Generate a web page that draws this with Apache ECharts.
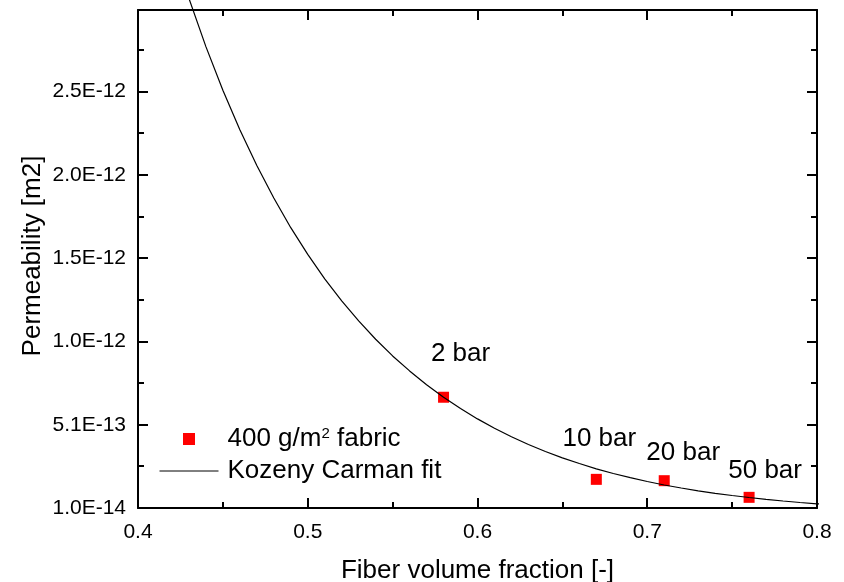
<!DOCTYPE html>
<html>
<head>
<meta charset="utf-8">
<script src="https://cdn.jsdelivr.net/npm/echarts@6/dist/echarts.min.js"></script>
<style>
  html, body { margin: 0; padding: 0; background: #fff; }
  #chart { width: 844px; height: 582px; }
</style>
</head>
<body>
<div id="chart"></div>
<script>
// ---- data ----
const fiberFraction = [0.58, 0.67, 0.71, 0.76];
const permeability = [6.75e-13, 1.82e-13, 1.74e-13, 7.4e-14];
const pressureLabels = ['2 bar', '10 bar', '20 bar', '50 bar'];

const kcX = [0.42, 0.43, 0.44, 0.45, 0.46, 0.47, 0.48, 0.49, 0.50, 0.51,
             0.52, 0.53, 0.54, 0.55, 0.56, 0.57, 0.58, 0.59, 0.60, 0.61,
             0.62, 0.63, 0.64, 0.65, 0.66, 0.67, 0.68, 0.69, 0.70, 0.71,
             0.72, 0.73, 0.74, 0.75, 0.76, 0.77, 0.78, 0.79, 0.80, 0.81];
const kcY = [3.39e-12, 3.07e-12, 2.78e-12, 2.518e-12, 2.281e-12, 2.066e-12, 1.871e-12, 1.693e-12, 1.533e-12, 1.386e-12,
             1.254e-12, 1.133e-12, 1.023e-12, 9.23e-13, 8.33e-13, 7.50e-13, 6.75e-13, 6.07e-13, 5.45e-13, 4.89e-13,
             4.38e-13, 3.91e-13, 3.49e-13, 3.11e-13, 2.77e-13, 2.45e-13, 2.17e-13, 1.92e-13, 1.69e-13, 1.48e-13,
             1.30e-13, 1.13e-13, 9.8e-14, 8.5e-14, 7.3e-14, 6.2e-14, 5.2e-14, 4.3e-14, 3.5e-14, 2.9e-14];

const yTickValues = [1.0e-14, 5.1e-13, 1.01e-12, 1.51e-12, 2.01e-12, 2.51e-12];
const yMinorTickValues = [2.6e-13, 7.6e-13, 1.26e-12, 1.76e-12, 2.26e-12, 2.76e-12];
const xMin = 0.4, xMax = 0.8, xStep = 0.1;
const yMin = 1.0e-14, yMax = 3.0e-12;

const seriesNames = ['400 g/m2 fabric', 'Kozeny Carman fit'];

// ---- styling (not data) ----
const FONT = '"Liberation Sans", Arial, sans-serif';
const labelOffsets = [[17, -43], [3, -41], [19, -28], [16, -27]];

const chart = echarts.init(document.getElementById('chart'), null, { renderer: 'canvas' });

const yFmt = v => v.toExponential(1).toUpperCase();

const axisLineStyle = { color: '#000', width: 2 };

const option = {
  animation: false,
  backgroundColor: '#fff',
  textStyle: { fontFamily: FONT, color: '#000' },
  grid: { left: 138, right: 27, top: 10, bottom: 74, containLabel: false, outerBoundsMode: 'none' },
  legend: {
    orient: 'vertical',
    left: 159,
    top: 426,
    padding: 0,
    itemWidth: 59,
    itemHeight: 12,
    itemGap: 6,
    selectedMode: false,
    data: [
      { name: seriesNames[0], icon: 'path://M0,0h10v10h-10z', itemStyle: { color: '#ff0000', opacity: 1 } },
      { name: seriesNames[1], itemStyle: { opacity: 0, color: 'transparent', borderColor: 'transparent', borderWidth: 0 }, lineStyle: { color: '#000', width: 1 } }
    ],
    textStyle: {
      fontFamily: FONT, fontSize: 26, color: '#000', lineHeight: 26,
      padding: [0, 0, 0, 4],
      rich: {
        sup: { fontFamily: FONT, fontSize: 15, color: '#000', verticalAlign: 'top', lineHeight: 16 }
      }
    },
    formatter: name => name === seriesNames[0] ? '400 g/m{sup|2} fabric' : name
  },
  xAxis: [
    {
      type: 'value', position: 'bottom', min: xMin, max: xMax, interval: xStep,
      name: 'Fiber volume fraction [-]', nameLocation: 'middle', nameGap: 50,
      nameTextStyle: { fontFamily: FONT, fontSize: 26, color: '#000' },
      axisLine: { show: true, onZero: false, lineStyle: axisLineStyle },
      axisTick: { show: true, inside: true, length: 10, lineStyle: { color: '#000', width: 2 } },
      minorTick: { show: true, splitNumber: 2, length: 6, lineStyle: { color: '#000', width: 2 } },
      axisLabel: { fontFamily: FONT, fontSize: 21, color: '#000', margin: 14 },
      splitLine: { show: false }
    },
    {
      type: 'value', position: 'top', min: xMin, max: xMax, interval: xStep,
      axisLine: { show: true, onZero: false, lineStyle: axisLineStyle },
      axisTick: { show: true, inside: true, length: 10, lineStyle: { color: '#000', width: 2 } },
      minorTick: { show: true, splitNumber: 2, length: 6, lineStyle: { color: '#000', width: 2 } },
      axisLabel: { show: false },
      splitLine: { show: false }
    }
  ],
  yAxis: [
    {
      type: 'value', position: 'left', min: yMin, max: yMax,
      name: 'Permeability [m2]', nameLocation: 'middle', nameGap: 92, nameMoveOverlap: false,
      nameTextStyle: { fontFamily: FONT, fontSize: 26, color: '#000', padding: [0, 0, 0, 6] },
      axisLine: { show: true, onZero: false, lineStyle: axisLineStyle },
      axisTick: { show: true, inside: true, length: 10, customValues: yTickValues, lineStyle: { color: '#000', width: 2 } },
      axisLabel: { fontFamily: FONT, fontSize: 21, color: '#000', margin: 12, customValues: yTickValues, formatter: yFmt },
      splitLine: { show: false }
    },
    {
      type: 'value', position: 'right', min: yMin, max: yMax,
      axisLine: { show: true, onZero: false, lineStyle: axisLineStyle },
      axisTick: { show: true, inside: true, length: 10, customValues: yTickValues, lineStyle: { color: '#000', width: 2 } },
      axisLabel: { show: false },
      splitLine: { show: false }
    }
  ],
  series: [
    {
      name: seriesNames[0],
      type: 'scatter',
      symbol: 'rect',
      symbolSize: 11,
      itemStyle: { color: '#ff0000', opacity: 1 },
      z: 2,
      data: fiberFraction.map((x, i) => ({
        value: [x, permeability[i]],
        label: { offset: labelOffsets[i] }
      })),
      label: {
        show: true,
        position: 'inside',
        fontFamily: FONT, fontSize: 26, color: '#000', opacity: 1,
        formatter: p => pressureLabels[p.dataIndex]
      }
    },
    {
      name: seriesNames[1],
      type: 'line',
      showSymbol: false,
      symbol: 'none',
      clip: false,
      z: 3,
      lineStyle: { color: '#000', width: 1.2 },
      itemStyle: { color: '#000' },
      data: kcX.map((x, i) => [x, kcY[i]])
    },
    {
      type: 'custom',
      silent: true,
      z: 4,
      renderItem: (params, api) => {
        const pt = api.coord([api.value(0), api.value(1)]);
        const cs = params.coordSys;
        const y = Math.round(pt[1]);
        return {
          type: 'group',
          children: [
            { type: 'line', shape: { x1: cs.x, y1: y, x2: cs.x + 6, y2: y }, style: { stroke: '#000', lineWidth: 2 } },
            { type: 'line', shape: { x1: cs.x + cs.width - 6, y1: y, x2: cs.x + cs.width, y2: y }, style: { stroke: '#000', lineWidth: 2 } }
          ]
        };
      },
      data: yMinorTickValues.map(v => [xMin, v])
    }
  ]
};

chart.setOption(option);
</script>
</body>
</html>
